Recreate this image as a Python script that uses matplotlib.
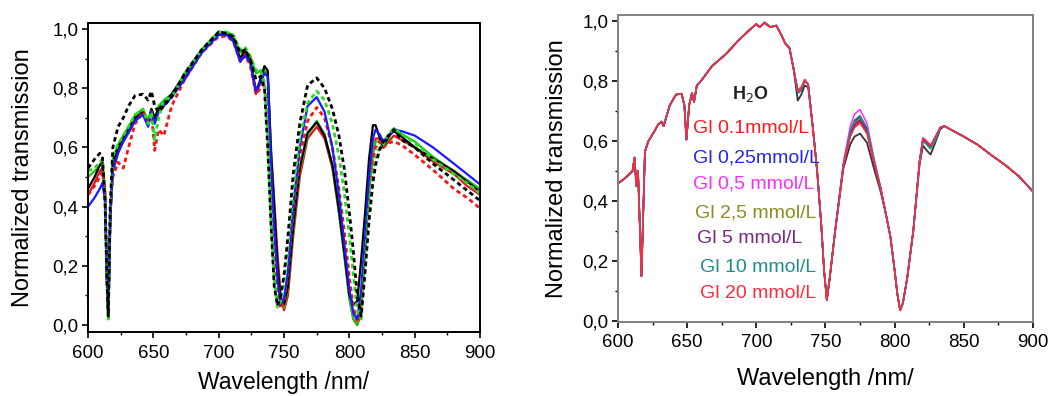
import matplotlib
matplotlib.use("Agg")
import matplotlib.pyplot as plt
from matplotlib.ticker import MultipleLocator, FuncFormatter

plt.rcParams['font.family'] = ['Liberation Sans', 'DejaVu Sans']

# ---- left panel: wavelength grid and curves ----
wl_l = [600, 605, 609, 611, 613, 614.5, 615.5, 617, 619, 623, 627, 631, 636, 642, 646, 648.5,
        651, 654, 658, 664, 674, 687, 700, 706, 711, 716.5, 720, 724, 728.5, 732, 735, 737.5,
        740, 742.5, 745, 747.5, 750, 753, 757, 762, 768, 775, 781, 787, 792, 796,
        800, 803, 806, 809, 812, 815, 818, 820, 823, 826, 830, 834, 840, 850, 864, 880, 890, 900]

black_dash = [0.53, 0.56, 0.58, 0.57, 0.42, 0.15, 0.03, 0.40, 0.60, 0.67, 0.70, 0.74, 0.775, 0.78, 0.76, 0.79,
              0.74, 0.72, 0.74, 0.77, 0.85, 0.93, 0.99, 0.985, 0.975, 0.92, 0.93, 0.90, 0.83, 0.84, 0.80, 0.60,
              0.34, 0.13, 0.065, 0.10, 0.17, 0.30, 0.51, 0.68, 0.81, 0.835, 0.80, 0.73, 0.64, 0.53,
              0.38, 0.25, 0.10, 0.03, 0.18, 0.35, 0.48, 0.54, 0.59, 0.62, 0.64, 0.66, 0.625, 0.60, 0.545, 0.49, 0.455, 0.42]
green_dash = [0.52, 0.53, 0.55, 0.56, 0.44, 0.15, 0.02, 0.38, 0.57, 0.61, 0.64, 0.67, 0.71, 0.73, 0.68, 0.72,
              0.625, 0.70, 0.76, 0.77, 0.85, 0.93, 0.99, 0.99, 0.98, 0.93, 0.94, 0.91, 0.86, 0.86, 0.82, 0.64,
              0.36, 0.15, 0.06, 0.08, 0.14, 0.26, 0.45, 0.63, 0.75, 0.79, 0.76, 0.68, 0.57, 0.45,
              0.30, 0.17, 0.05, 0.02, 0.22, 0.40, 0.52, 0.56, 0.60, 0.61, 0.645, 0.665, 0.645, 0.615, 0.56, 0.51, 0.48, 0.445]
blue_solid = [0.40, 0.43, 0.46, 0.48, 0.42, 0.15, 0.03, 0.35, 0.52, 0.58, 0.62, 0.65, 0.69, 0.71, 0.67, 0.72,
              0.68, 0.72, 0.74, 0.77, 0.83, 0.92, 0.98, 0.98, 0.96, 0.89, 0.91, 0.89, 0.79, 0.82, 0.85, 0.84,
              0.55, 0.33, 0.15, 0.07, 0.09, 0.18, 0.40, 0.60, 0.74, 0.77, 0.72, 0.60, 0.44, 0.28,
              0.12, 0.04, 0.02, 0.12, 0.30, 0.50, 0.63, 0.66, 0.645, 0.62, 0.64, 0.66, 0.655, 0.64, 0.60, 0.545, 0.51, 0.475]
red_dash = [0.44, 0.47, 0.50, 0.52, 0.45, 0.15, 0.03, 0.40, 0.50, 0.55, 0.53, 0.60, 0.68, 0.72, 0.68, 0.72,
            0.59, 0.66, 0.64, 0.74, 0.83, 0.92, 0.975, 0.975, 0.96, 0.89, 0.91, 0.88, 0.78, 0.80, 0.82, 0.70,
            0.46, 0.25, 0.10, 0.055, 0.08, 0.17, 0.38, 0.56, 0.69, 0.735, 0.70, 0.60, 0.46, 0.32,
            0.16, 0.06, 0.01, 0.04, 0.20, 0.40, 0.56, 0.60, 0.62, 0.60, 0.615, 0.62, 0.608, 0.575, 0.524, 0.46, 0.43, 0.394]
green_solid = [0.50, 0.52, 0.54, 0.55, 0.44, 0.15, 0.02, 0.36, 0.56, 0.61, 0.64, 0.67, 0.71, 0.73, 0.69, 0.73,
               0.70, 0.74, 0.76, 0.78, 0.85, 0.93, 0.99, 0.99, 0.98, 0.92, 0.93, 0.91, 0.85, 0.86, 0.86, 0.85,
               0.58, 0.38, 0.18, 0.07, 0.06, 0.12, 0.32, 0.52, 0.64, 0.69, 0.645, 0.54, 0.38, 0.24,
               0.09, 0.02, 0.0, 0.08, 0.25, 0.45, 0.58, 0.62, 0.62, 0.60, 0.63, 0.665, 0.645, 0.62, 0.568, 0.52, 0.49, 0.46]
black_solid = [0.46, 0.50, 0.54, 0.55, 0.45, 0.15, 0.03, 0.35, 0.55, 0.60, 0.63, 0.66, 0.70, 0.72, 0.68, 0.73,
               0.70, 0.73, 0.75, 0.78, 0.845, 0.93, 0.99, 0.985, 0.97, 0.90, 0.93, 0.90, 0.79, 0.83, 0.875, 0.86,
               0.58, 0.40, 0.20, 0.08, 0.07, 0.13, 0.33, 0.53, 0.65, 0.685, 0.64, 0.54, 0.39, 0.25,
               0.10, 0.07, 0.08, 0.22, 0.38, 0.56, 0.675, 0.675, 0.635, 0.60, 0.64, 0.655, 0.636, 0.60, 0.563, 0.52, 0.485, 0.45]
red_solid = [0.44, 0.48, 0.52, 0.53, 0.44, 0.15, 0.03, 0.36, 0.54, 0.59, 0.62, 0.65, 0.69, 0.72, 0.68, 0.72,
             0.69, 0.72, 0.75, 0.77, 0.84, 0.92, 0.985, 0.98, 0.97, 0.89, 0.92, 0.89, 0.78, 0.82, 0.86, 0.85,
             0.60, 0.42, 0.24, 0.10, 0.05, 0.10, 0.30, 0.50, 0.63, 0.67, 0.63, 0.53, 0.38, 0.24,
             0.09, 0.02, 0.0, 0.04, 0.25, 0.45, 0.58, 0.63, 0.63, 0.60, 0.62, 0.64, 0.625, 0.60, 0.552, 0.51, 0.47, 0.44]

left_series = [
    (red_solid, '#e8141c', '-'),
    (green_solid, '#18c818', '-'),
    (black_solid, '#000000', '-'),
    (red_dash, '#f01818', '--'),
    (blue_solid, '#1a1aff', '-'),
    (green_dash, '#22dd22', '--'),
    (black_dash, '#000000', '--'),
]

# ---- right panel ----
wl_r = [600, 606, 610.5, 612, 613.3, 614.5, 617, 619.5, 622, 626, 629, 631.5, 633, 637.5, 642, 646,
        648, 649.5, 651.5, 653.5, 655, 657, 660, 668, 678, 688, 695, 700, 702.5, 706, 710, 714.5,
        718, 721, 724, 727, 730, 732.5, 735, 737.5, 741, 744, 747, 749, 751, 753, 757, 763,
        768, 771, 775, 780, 785, 790, 794, 797, 800, 802, 804, 806, 809, 813.5, 818, 820.5,
        823, 826, 829, 833, 836, 842, 850, 860, 870, 880, 890, 900]

t_h2o = [0.458, 0.48, 0.50, 0.545, 0.45, 0.50, 0.15, 0.565, 0.60, 0.63, 0.655, 0.665, 0.65, 0.72, 0.755, 0.758,
         0.72, 0.605, 0.72, 0.76, 0.73, 0.785, 0.80, 0.85, 0.89, 0.94, 0.97, 0.99, 0.98, 0.995, 0.98, 0.985,
         0.955, 0.925, 0.91, 0.84, 0.735, 0.755, 0.785, 0.78, 0.64, 0.50, 0.32, 0.17, 0.07, 0.14, 0.30, 0.51,
         0.59, 0.615, 0.625, 0.595, 0.51, 0.43, 0.35, 0.28, 0.17, 0.09, 0.036, 0.06, 0.14, 0.30, 0.52, 0.585,
         0.57, 0.555, 0.59, 0.64, 0.65, 0.635, 0.615, 0.588, 0.553, 0.52, 0.482, 0.432]
t_gl01 = [0.458, 0.48, 0.50, 0.545, 0.45, 0.50, 0.15, 0.565, 0.60, 0.63, 0.655, 0.665, 0.65, 0.72, 0.755, 0.758,
          0.72, 0.605, 0.72, 0.76, 0.73, 0.785, 0.80, 0.85, 0.89, 0.94, 0.97, 0.99, 0.98, 0.995, 0.98, 0.985,
          0.955, 0.925, 0.91, 0.84, 0.765, 0.775, 0.80, 0.79, 0.64, 0.50, 0.32, 0.17, 0.07, 0.14, 0.30, 0.52,
          0.62, 0.65, 0.665, 0.63, 0.53, 0.44, 0.35, 0.28, 0.17, 0.09, 0.036, 0.06, 0.14, 0.30, 0.53, 0.61,
          0.60, 0.585, 0.61, 0.645, 0.65, 0.635, 0.615, 0.588, 0.553, 0.52, 0.482, 0.432]
t_gl025 = [0.458, 0.48, 0.50, 0.545, 0.45, 0.50, 0.15, 0.565, 0.60, 0.63, 0.655, 0.665, 0.65, 0.72, 0.755, 0.758,
           0.72, 0.605, 0.72, 0.76, 0.73, 0.785, 0.80, 0.85, 0.89, 0.94, 0.97, 0.99, 0.98, 0.995, 0.98, 0.985,
           0.955, 0.925, 0.91, 0.84, 0.76, 0.77, 0.80, 0.79, 0.64, 0.50, 0.32, 0.17, 0.07, 0.14, 0.30, 0.52,
           0.63, 0.665, 0.68, 0.64, 0.535, 0.44, 0.35, 0.28, 0.17, 0.09, 0.036, 0.06, 0.14, 0.30, 0.53, 0.605,
           0.595, 0.58, 0.605, 0.645, 0.65, 0.635, 0.615, 0.588, 0.553, 0.52, 0.482, 0.432]
t_gl05 = [0.458, 0.48, 0.50, 0.545, 0.45, 0.50, 0.15, 0.565, 0.60, 0.63, 0.655, 0.665, 0.65, 0.72, 0.755, 0.758,
          0.72, 0.605, 0.72, 0.76, 0.73, 0.785, 0.80, 0.85, 0.89, 0.94, 0.97, 0.99, 0.98, 0.995, 0.98, 0.985,
          0.955, 0.925, 0.91, 0.84, 0.77, 0.78, 0.805, 0.79, 0.64, 0.50, 0.32, 0.17, 0.07, 0.14, 0.30, 0.53,
          0.65, 0.69, 0.705, 0.66, 0.545, 0.445, 0.35, 0.28, 0.17, 0.09, 0.036, 0.06, 0.14, 0.30, 0.53, 0.61,
          0.60, 0.585, 0.61, 0.645, 0.65, 0.635, 0.615, 0.588, 0.553, 0.52, 0.482, 0.432]
t_gl25 = [0.458, 0.48, 0.50, 0.545, 0.45, 0.50, 0.15, 0.565, 0.60, 0.63, 0.655, 0.665, 0.65, 0.72, 0.755, 0.758,
          0.72, 0.605, 0.72, 0.76, 0.73, 0.785, 0.80, 0.85, 0.89, 0.94, 0.97, 0.99, 0.98, 0.995, 0.98, 0.985,
          0.955, 0.925, 0.91, 0.84, 0.77, 0.78, 0.80, 0.79, 0.64, 0.50, 0.32, 0.17, 0.07, 0.14, 0.30, 0.52,
          0.625, 0.66, 0.675, 0.635, 0.535, 0.44, 0.35, 0.28, 0.17, 0.09, 0.036, 0.06, 0.14, 0.30, 0.53, 0.60,
          0.59, 0.575, 0.60, 0.645, 0.65, 0.635, 0.615, 0.588, 0.553, 0.52, 0.482, 0.432]
t_gl5 = [0.458, 0.48, 0.50, 0.545, 0.45, 0.50, 0.15, 0.565, 0.60, 0.63, 0.655, 0.665, 0.65, 0.72, 0.755, 0.758,
         0.72, 0.605, 0.72, 0.76, 0.73, 0.785, 0.80, 0.85, 0.89, 0.94, 0.97, 0.99, 0.98, 0.995, 0.98, 0.985,
         0.955, 0.925, 0.91, 0.84, 0.765, 0.775, 0.80, 0.79, 0.64, 0.50, 0.32, 0.17, 0.07, 0.14, 0.30, 0.52,
         0.625, 0.655, 0.67, 0.635, 0.53, 0.44, 0.35, 0.28, 0.17, 0.09, 0.036, 0.06, 0.14, 0.30, 0.53, 0.605,
         0.595, 0.58, 0.605, 0.645, 0.65, 0.635, 0.615, 0.588, 0.553, 0.52, 0.482, 0.432]
t_gl10 = [0.458, 0.48, 0.50, 0.545, 0.45, 0.50, 0.15, 0.565, 0.60, 0.63, 0.655, 0.665, 0.65, 0.72, 0.755, 0.758,
          0.72, 0.605, 0.72, 0.76, 0.73, 0.785, 0.80, 0.85, 0.89, 0.94, 0.97, 0.99, 0.98, 0.995, 0.98, 0.985,
          0.955, 0.925, 0.91, 0.84, 0.76, 0.77, 0.80, 0.79, 0.64, 0.50, 0.32, 0.17, 0.07, 0.14, 0.30, 0.52,
          0.635, 0.67, 0.685, 0.645, 0.54, 0.44, 0.35, 0.28, 0.17, 0.09, 0.036, 0.06, 0.14, 0.30, 0.53, 0.60,
          0.59, 0.575, 0.60, 0.645, 0.65, 0.635, 0.615, 0.588, 0.553, 0.52, 0.482, 0.432]
t_gl20 = [0.458, 0.48, 0.50, 0.545, 0.45, 0.50, 0.15, 0.565, 0.60, 0.63, 0.655, 0.665, 0.65, 0.72, 0.755, 0.758,
          0.72, 0.605, 0.72, 0.76, 0.73, 0.785, 0.80, 0.85, 0.89, 0.94, 0.97, 0.99, 0.98, 0.995, 0.98, 0.985,
          0.955, 0.925, 0.91, 0.84, 0.765, 0.775, 0.805, 0.79, 0.64, 0.50, 0.32, 0.17, 0.07, 0.14, 0.30, 0.52,
          0.615, 0.645, 0.66, 0.625, 0.53, 0.44, 0.35, 0.28, 0.17, 0.09, 0.036, 0.06, 0.14, 0.30, 0.53, 0.61,
          0.60, 0.585, 0.61, 0.645, 0.65, 0.635, 0.615, 0.588, 0.553, 0.52, 0.482, 0.432]

right_labels = ['Gl 0.1mmol/L', 'Gl 0,25mmol/L', 'Gl 0,5 mmol/L', 'Gl 2,5 mmol/L',
                'Gl 5 mmol/L', 'Gl 10 mmol/L', 'Gl 20 mmol/L']
right_colors = ['#ff1a1a', '#2626e6', '#ff2bff', '#8c8c1e', '#762a86', '#1f8c8c', '#ff2a40']
right_series = [t_gl01, t_gl025, t_gl05, t_gl25, t_gl5, t_gl10, t_gl20]
label_x = [654, 654, 654, 655.5, 657.5, 659, 659]
label_y = [0.642, 0.543, 0.457, 0.361, 0.275, 0.179, 0.093]


def comma(v, pos):
    return f"{v:.1f}".replace('.', ',')


def style_axes(ax, spine_color):
    ax.set_xlim(600, 900)
    ax.xaxis.set_major_locator(MultipleLocator(50))
    ax.xaxis.set_minor_locator(MultipleLocator(25))
    ax.yaxis.set_major_locator(MultipleLocator(0.2))
    ax.yaxis.set_minor_locator(MultipleLocator(0.1))
    ax.yaxis.set_major_formatter(FuncFormatter(comma))
    ax.tick_params(which='major', direction='out', length=4, width=1.2, labelsize=13.5)
    ax.tick_params(axis='x', which='major', pad=5)
    ax.tick_params(axis='y', which='major', pad=3)
    ax.tick_params(which='minor', direction='out', length=2.5, width=1.0)
    for s in ax.spines.values():
        s.set_color(spine_color)
        s.set_linewidth(1.4)


fig = plt.figure(figsize=(10.54, 3.96), dpi=100)

ax1 = fig.add_axes([0.0835, 0.1616, 0.372, 0.780])
for vals, col, ls in left_series:
    if ls == '--':
        ax1.plot(wl_l, vals, color=col, lw=2.0, linestyle=(0, (1.6, 1.2)))
    else:
        ax1.plot(wl_l, vals, color=col, lw=1.6)
style_axes(ax1, 'black')
ax1.set_ylim(-0.0236, 1.02)
ax1.set_xlabel('Wavelength /nm/', fontsize=16.5, labelpad=7)
ax1.set_ylabel('Normalized transmission', fontsize=17, labelpad=13)

ax2 = fig.add_axes([0.5863, 0.1869, 0.3937, 0.775])
ax2.plot(wl_r, t_h2o, color='#333333', lw=1.3)
for vals, col in zip(right_series, right_colors):
    ax2.plot(wl_r, vals, color=col, lw=1.1)
style_axes(ax2, '#808080')
ax2.set_ylim(-0.003, 1.02)
ax2.set_xlabel('Wavelength /nm/', fontsize=17, labelpad=12)
ax2.set_ylabel('Normalized transmission', fontsize=17, labelpad=10)

ax2.text(696, 0.758, 'H$_2$O', color='#222222', fontsize=13, fontweight='bold', ha='center', va='center')
for lab, col, x, y in zip(right_labels, right_colors, label_x, label_y):
    ax2.text(x, y, lab, color=col, fontsize=14, ha='left', va='center')

fig.savefig('out.png', dpi=100)
